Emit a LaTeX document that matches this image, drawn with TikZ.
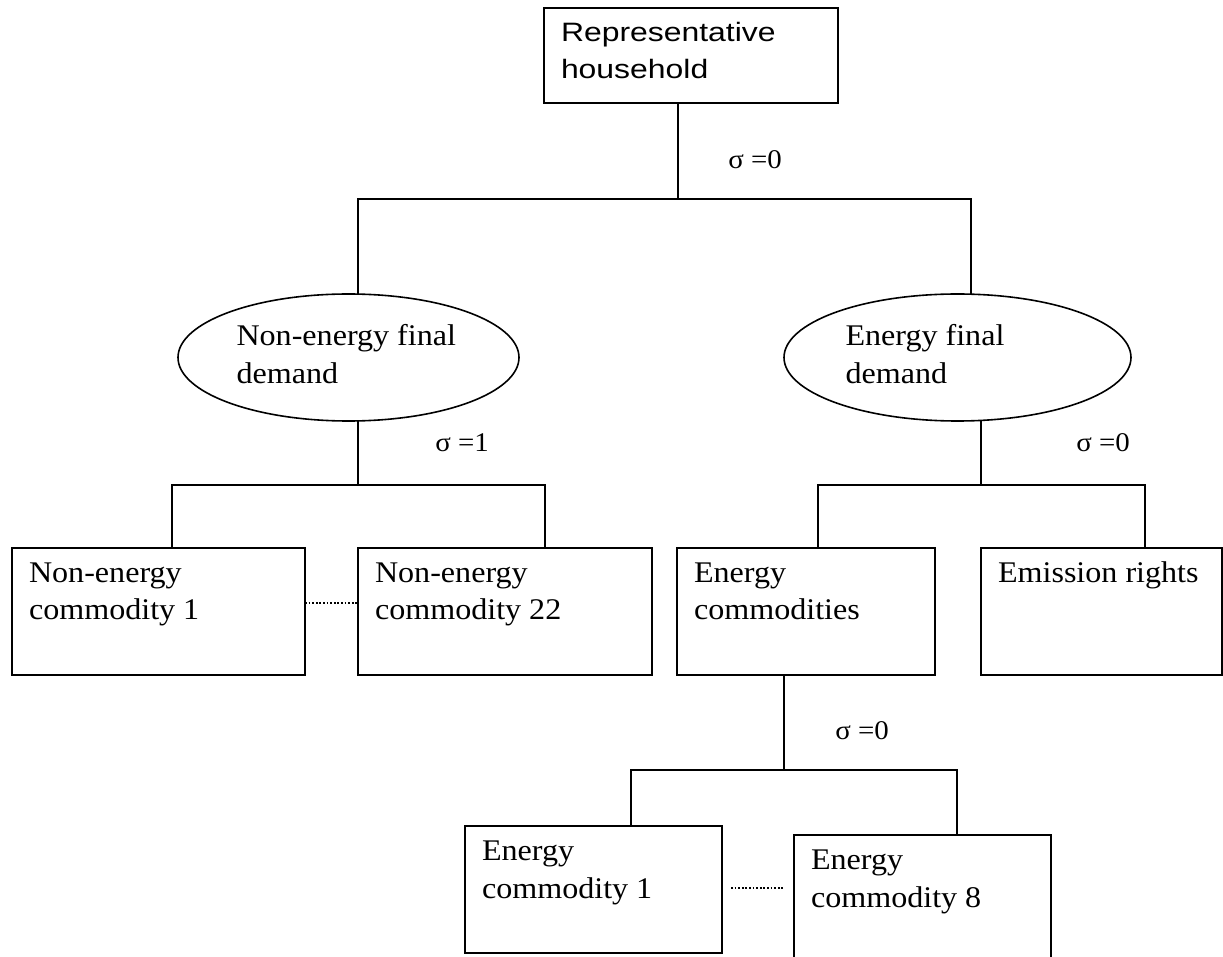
\documentclass[tikz,border=0pt]{standalone}
\usepackage{fontspec}
\setmainfont[FakeStretch=1.07]{Liberation Serif}
\newfontfamily\hhsans[FakeStretch=1.2]{Liberation Sans}
\usetikzlibrary{shapes.geometric}
\newcommand{\bxtext}[3]{\parbox[c][#2][t]{#1}{\raggedright\leftskip=8.5pt\rule{0pt}{17pt}#3}}
\tikzset{
  box/.style={draw, rectangle, inner sep=0pt, outer sep=0pt, line width=0.8pt, font=\fontsize{15}{19}\selectfont},
  oval/.style={draw, ellipse, inner sep=0pt, outer sep=0pt, line width=0.8pt, minimum height=63.5pt, font=\fontsize{15}{19}\selectfont},
  wire/.style={line width=0.8pt},
  dotline/.style={line width=1.1pt, dash pattern=on 0.9pt off 0.9pt},
  sig/.style={anchor=base west, inner sep=0pt, font=\fontsize{13.5}{15}\selectfont}
}
\begin{document}
\begin{tikzpicture}[x=0.5pt,y=-0.5pt]
\useasboundingbox (0,0) rectangle (1223,957);
\fill[white] (0,0) rectangle (1223,957);
\clip (0,0) rectangle (1223,957);
% boxes
\node[box] (top) at (691,55.5) {\hhsans\fontsize{13.3}{18.5}\selectfont\bxtext{147pt}{47.5pt}{Representative\\household}};
\node[box] (b1) at (158.5,611.5) {\bxtext{146.5pt}{63.5pt}{Non-energy\\commodity 1}};
\node[box] (b2) at (505,611.5) {\bxtext{147pt}{63.5pt}{Non-energy\\commodity 22}};
\node[box] (ec) at (806,611.5) {\bxtext{129pt}{63.5pt}{Energy\\commodities}};
\node[box] (er) at (1101.5,611.5) {\bxtext{120.5pt}{63.5pt}{Emission rights}};
\node[box] (ec1) at (593.5,889.5) {\bxtext{128.5pt}{63.5pt}{Energy\\commodity 1}};
\node[box] (ec8) at (922.5,898.5) {\bxtext{128.5pt}{63.5pt}{Energy\\commodity 8}};
% ellipses
\node[oval, minimum width=170.5pt] (nl) at (348.5,357.5) {\parbox{112pt}{\raggedright Non-energy final\\demand\rule[-3.5pt]{0pt}{0pt}}};
\node[oval, minimum width=173.5pt] (nr) at (957.5,357.5) {\parbox{112pt}{\raggedright Energy final\\demand\rule[-3.5pt]{0pt}{0pt}}};
% junctions
\coordinate (j1) at (678,199);
\coordinate (j1l) at (358,199);
\coordinate (j1r) at (971,199);
\coordinate (j2) at (358,485);
\coordinate (j2l) at (172,485);
\coordinate (j2r) at (545,485);
\coordinate (j3) at (981,485);
\coordinate (j3l) at (818,485);
\coordinate (j3r) at (1145,485);
\coordinate (j4) at (784,770);
\coordinate (j4l) at (631,770);
\coordinate (j4r) at (957,770);
% connectors
\draw[wire] (top.south -| j1) -- (j1);
\draw[wire] (j1l |- nl.north) -- (j1l) -- (j1r) -- (j1r |- nr.north);
\draw[wire] (nl.south -| j2) -- (j2);
\draw[wire] (j2l |- b1.north) -- (j2l) -- (j2r) -- (j2r |- b2.north);
\draw[wire] (nr.south -| j3) -- (j3);
\draw[wire] (j3l |- ec.north) -- (j3l) -- (j3r) -- (j3r |- er.north);
\draw[wire] (ec.south -| j4) -- (j4);
\draw[wire] (j4l |- ec1.north) -- (j4l) -- (j4r) -- (j4r |- ec8.north);
% dotted links
\draw[dotline] ([yshift=4.25pt]b1.east) -- ([yshift=4.25pt]b2.west);
\draw[dotline] ([xshift=4.5pt,yshift=0.75pt]ec1.east) -- ([xshift=-5.5pt,yshift=5.25pt]ec8.west);
% elasticities
\node[sig] (s1) at (728,169) {σ =0};
\node[sig] (s2) at (435,452) {σ =1};
\node[sig] (s3) at (1076,452) {σ =0};
\node[sig] (s4) at (835,740) {σ =0};
\end{tikzpicture}
\end{document}
